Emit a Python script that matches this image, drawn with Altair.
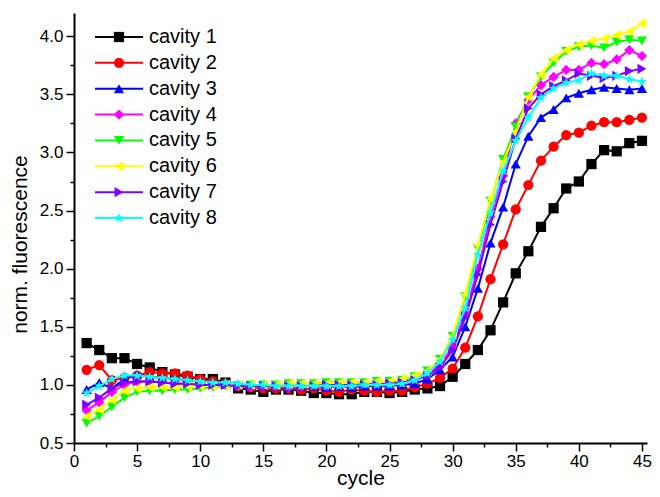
import math
import altair as alt
import pandas as pd

cycles = list(range(1, 46))

names = ["cavity 1", "cavity 2", "cavity 3", "cavity 4",
         "cavity 5", "cavity 6", "cavity 7", "cavity 8"]
colors = ["#000000", "#ff0000", "#0000ff", "#ff00ff",
          "#00ff00", "#ffff00", "#8000ff", "#00ffff"]

cavity1 = [1.36, 1.30, 1.23, 1.23, 1.18, 1.15, 1.11, 1.09, 1.07, 1.05,
           1.05, 1.02, 0.97, 0.96, 0.94, 0.96, 0.96, 0.95, 0.93, 0.93,
           0.92, 0.92, 0.94, 0.94, 0.93, 0.94, 0.96, 0.97, 0.99, 1.07,
           1.18, 1.30, 1.47, 1.71, 1.96, 2.15, 2.36, 2.52, 2.69, 2.75,
           2.90, 3.02, 3.01, 3.08, 3.10]
cavity2 = [1.13, 1.17, 1.04, 1.06, 1.08, 1.11, 1.10, 1.10, 1.08, 1.05,
           1.03, 1.01, 0.99, 0.98, 0.97, 0.97, 0.97, 0.96, 0.97, 0.95,
           0.94, 0.96, 0.95, 0.94, 0.95, 0.95, 0.98, 1.01, 1.06, 1.14,
           1.32, 1.59, 1.91, 2.21, 2.51, 2.72, 2.93, 3.05, 3.15, 3.17,
           3.23, 3.26, 3.26, 3.28, 3.30]
cavity3 = [0.96, 1.02, 0.97, 1.05, 1.09, 1.07, 1.06, 1.05, 1.04, 1.03,
           1.02, 1.01, 1.00, 1.00, 0.99, 0.99, 0.98, 0.99, 0.99, 0.98,
           0.99, 0.98, 0.99, 0.99, 0.99, 1.00, 1.01, 1.05, 1.13, 1.24,
           1.50, 1.83, 2.22, 2.53, 2.90, 3.14, 3.30, 3.37, 3.47, 3.51,
           3.54, 3.56, 3.55, 3.54, 3.55]
cavity4 = [0.78, 0.85, 0.94, 1.00, 1.03, 1.03, 1.02, 1.01, 1.01, 1.00,
           1.00, 1.00, 0.99, 0.98, 0.99, 0.99, 0.98, 0.99, 1.00, 0.99,
           1.00, 1.00, 1.01, 1.01, 1.01, 1.02, 1.05, 1.09, 1.17, 1.33,
           1.62, 2.00, 2.45, 2.80, 3.25, 3.45, 3.58, 3.65, 3.71, 3.71,
           3.77, 3.76, 3.80, 3.88, 3.83]
cavity5 = [0.67, 0.73, 0.81, 0.89, 0.94, 0.95, 0.95, 0.96, 0.96, 0.97,
           0.98, 0.99, 0.99, 1.00, 1.00, 1.00, 1.01, 1.01, 1.01, 1.02,
           1.02, 1.02, 1.02, 1.03, 1.03, 1.04, 1.07, 1.12, 1.22, 1.42,
           1.76, 2.17, 2.58, 2.94, 3.22, 3.48, 3.65, 3.77, 3.87, 3.91,
           3.92, 3.90, 3.95, 3.97, 3.96]
cavity6 = [0.73, 0.79, 0.87, 0.95, 0.97, 0.98, 0.98, 0.98, 0.99, 0.99,
           0.99, 1.00, 1.00, 1.00, 1.00, 1.00, 1.01, 1.01, 1.01, 1.01,
           1.02, 1.02, 1.02, 1.03, 1.03, 1.05, 1.08, 1.12, 1.22, 1.42,
           1.78, 2.20, 2.60, 2.92, 3.18, 3.48, 3.67, 3.81, 3.88, 3.93,
           3.96, 3.98, 4.01, 4.04, 4.11]
cavity7 = [0.83, 0.89, 0.97, 1.02, 1.03, 1.03, 1.02, 1.01, 1.01, 1.00,
           1.00, 1.00, 0.99, 0.99, 0.99, 0.99, 0.99, 0.99, 0.99, 1.00,
           1.00, 1.00, 1.00, 1.00, 1.01, 1.02, 1.04, 1.08, 1.15, 1.30,
           1.58, 1.95, 2.38, 2.75, 3.12, 3.38, 3.50, 3.57, 3.62, 3.68,
           3.66, 3.64, 3.66, 3.70, 3.72]
cavity8 = [0.93, 0.99, 1.05, 1.08, 1.08, 1.07, 1.06, 1.05, 1.04, 1.03,
           1.02, 1.02, 1.01, 1.00, 1.00, 0.99, 0.99, 0.99, 0.99, 0.99,
           0.99, 0.99, 1.00, 1.00, 1.00, 1.01, 1.04, 1.10, 1.20, 1.39,
           1.66, 2.12, 2.48, 2.84, 3.10, 3.30, 3.47, 3.55, 3.60, 3.62,
           3.68, 3.66, 3.66, 3.63, 3.61]

series_values = [cavity1, cavity2, cavity3, cavity4,
                 cavity5, cavity6, cavity7, cavity8]

x_ticks = [i * 2.5 for i in range(19)]
y_ticks = [0.5 + i * 0.25 for i in range(15)]

# star marker path (unit coordinates)
pts = []
for k in range(10):
    r = 1.0 if k % 2 == 0 else 0.42
    a = math.radians(-90 + 36 * k)
    pts.append(f"{r * math.cos(a):.3f},{r * math.sin(a):.3f}")
star = "M" + "L".join(pts) + "Z"
shapes = ["square", "circle", "triangle-up", "diamond",
          "triangle-down", "triangle-left", "triangle-right", star]

rows = []
for name, vals in zip(names, series_values):
    for c, v in zip(cycles, vals):
        rows.append({"series": name, "cycle": c, "value": v})
df = pd.DataFrame(rows)

FONT = "Liberation Sans"
MSIZE = 105

color_enc = alt.Color("series:N", scale=alt.Scale(domain=names, range=colors), legend=None)
shape_enc = alt.Shape("series:N", scale=alt.Scale(domain=names, range=shapes), legend=None)

x_axis = alt.Axis(
    values=x_ticks,
    labelExpr="datum.value % 5 === 0 ? format(datum.value, 'd') : ''",
    tickSize={"condition": {"test": "datum.value % 5 === 0", "value": 8}, "value": 4},
    title="cycle", titleFontSize=21, titleFont=FONT, titleFontWeight="normal",
    titleBaseline="alphabetic", titleY=41,
    labelFontSize=17, labelFont=FONT, labelPadding=2, labelOverlap=False,
    labelFlush=False,
)
y_axis = alt.Axis(
    values=y_ticks,
    labelExpr="abs(datum.value * 2 - round(datum.value * 2)) < 0.001 ? format(datum.value, '.1f') : ''",
    tickSize={"condition": {"test": "abs(datum.value * 2 - round(datum.value * 2)) < 0.001", "value": 8}, "value": 4},
    title="norm. fluorescence", titleFontSize=21, titleFont=FONT, titleFontWeight="normal",
    titleX=-44, titleY=231,
    labelFontSize=17, labelFont=FONT, labelPadding=3, labelOverlap=False,
    labelFlush=False,
)

x_enc = alt.X("cycle:Q", scale=alt.Scale(domain=[0, 45.4], nice=False, zero=False), axis=x_axis)
y_enc = alt.Y("value:Q", scale=alt.Scale(domain=[0.5, 4.2], nice=False, zero=False), axis=y_axis)

layers = []
for name in names:
    base = alt.Chart(df).transform_filter(alt.datum.series == name).encode(
        x=x_enc, y=y_enc, color=color_enc
    )
    layers.append(base.mark_line(strokeWidth=2))
    layers.append(base.mark_point(filled=True, size=MSIZE, opacity=1).encode(shape=shape_enc))
main = alt.layer(*layers)

leg_df = pd.DataFrame({"series": names})
ly = alt.Y("series:N", scale=alt.Scale(type="point", domain=names, range=[24, 205], padding=0), axis=None)
leg_line = alt.Chart(leg_df).mark_rule(strokeWidth=2).encode(
    x=alt.value(21), x2=alt.value(69), y=ly, color=color_enc)
leg_pt = alt.Chart(leg_df).mark_point(filled=True, size=MSIZE, opacity=1).encode(
    x=alt.value(45), y=ly, color=color_enc, shape=shape_enc)
leg_text = alt.Chart(leg_df).mark_text(
    align="left", baseline="middle", fontSize=20, font=FONT, color="black"
).encode(x=alt.value(75), y=ly, text="series:N")
legend = alt.layer(leg_line, leg_pt, leg_text)

chart = alt.layer(main, legend).resolve_scale(y="independent").properties(
    width=573, height=430,
    autosize=alt.AutoSizeParams(type="none"),
    padding={"left": 66, "top": 5, "right": 5, "bottom": 46},
).configure_view(stroke=None).configure_axis(
    grid=False, domainColor="black", domainWidth=2, tickColor="black",
    tickWidth=1.5, labelColor="black", titleColor="black",
)

chart.save("out.html", embed_options={"renderer": "svg", "actions": False})
